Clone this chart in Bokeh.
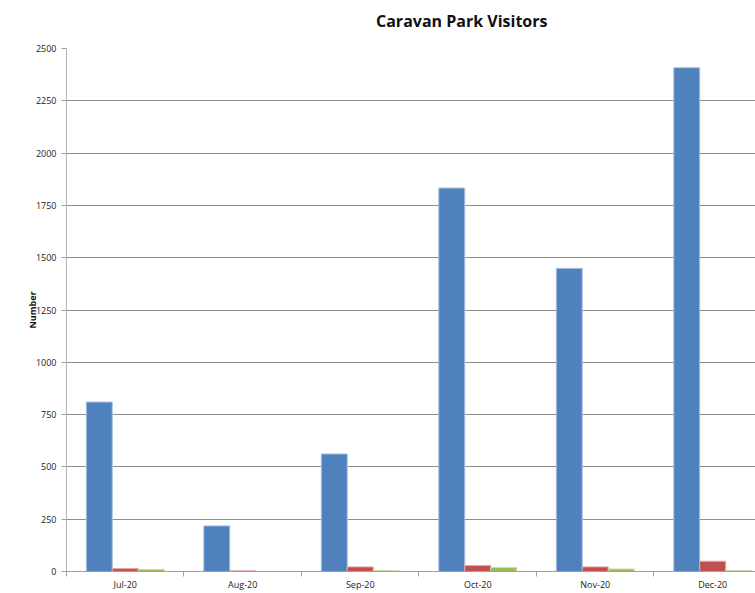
from bokeh.embed import file_html
from bokeh.layouts import column
from bokeh.models import ColumnDataSource, Div, FixedTicker, Range1d
from bokeh.plotting import figure
from bokeh.resources import INLINE

# Monthly visitor counts
months = ["Jul-20", "Aug-20", "Sep-20", "Oct-20", "Nov-20", "Dec-20"]
series1 = [810, 218, 562, 1833, 1449, 2408]
series2 = [14, 3, 22, 29, 22, 49]
series3 = [10, 0, 5, 19, 12, 5]
y_ticks = [0, 250, 500, 750, 1000, 1250, 1500, 1750, 2000, 2250, 2500]

colors = ["#4f81bd", "#c0504d", "#9bbb59"]
edges = ["#a9c1e0", "#e0a9a7", "#cddcb0"]
bar_w = 0.221

centers = [i + 0.5 for i in range(len(months))]

title = Div(
    text="Caravan Park Visitors", width=755, height=27, margin=0,
    styles={"font-family": "Open Sans", "font-weight": "bold", "font-size": "16px",
            "color": "#111111", "padding-left": "376px", "padding-top": "10px",
            "line-height": "22px", "background": "white"},
)

p = figure(
    width=755, height=566,
    x_range=Range1d(0, 5.864), y_range=Range1d(0, 2500),
    output_backend="svg", toolbar_location=None,
    min_border_left=66, min_border_right=0, min_border_bottom=21, min_border_top=21,
    margin=0,
)
p.background_fill_color = "white"
p.border_fill_color = "white"
p.outline_line_color = None

for k, (vals, c, e) in enumerate(zip([series1, series2, series3], colors, edges)):
    src = ColumnDataSource(dict(x=[cx + (k - 1) * bar_w for cx in centers], top=vals))
    p.vbar(x="x", top="top", bottom=0, width=bar_w, source=src,
           fill_color=c, line_color=e, line_width=1)

# x axis: labels at category centres, tick marks at category boundaries
p.xaxis.ticker = FixedTicker(ticks=centers, minor_ticks=list(range(len(months) + 1)))
p.xaxis.major_label_overrides = {c: m for c, m in zip(centers, months)}
p.xaxis.major_tick_line_color = None
p.xaxis.minor_tick_line_color = "#a0a0a0"
p.xaxis.minor_tick_out = 5
p.xaxis.minor_tick_in = 0
p.xaxis.axis_line_color = "#a0a0a0"
p.xaxis.major_label_standoff = 0
p.xgrid.grid_line_color = None

p.yaxis.ticker = FixedTicker(ticks=y_ticks)
p.yaxis.axis_line_color = "#b4b4b4"
p.yaxis.major_tick_line_color = "#a0a0a0"
p.yaxis.major_tick_out = 5
p.yaxis.major_tick_in = 0
p.yaxis.minor_tick_line_color = None
p.yaxis.major_label_standoff = 5
p.yaxis.axis_label = "Number"
p.yaxis.axis_label_standoff = -6
p.yaxis.axis_label_text_font = "Open Sans"
p.yaxis.axis_label_text_font_style = "bold"
p.yaxis.axis_label_text_font_size = "9px"
p.yaxis.axis_label_text_color = "#111111"
p.ygrid.grid_line_color = "#8c8c8c"
p.ygrid.grid_line_width = 1

for ax in (p.xaxis, p.yaxis):
    ax.major_label_text_font = "Open Sans"
    ax.major_label_text_font_size = "9px"
    ax.major_label_text_color = "#222222"

layout = column(title, p, spacing=0, margin=0)
open("out.html", "w").write(file_html(layout, INLINE))
